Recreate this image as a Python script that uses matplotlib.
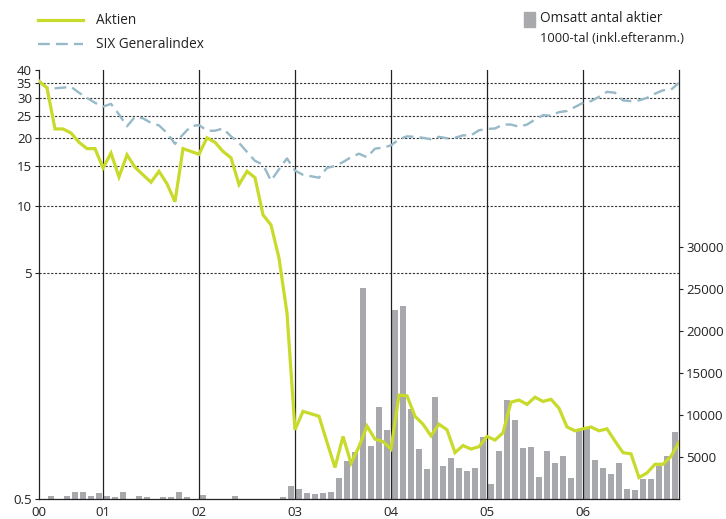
import numpy as np
import matplotlib
matplotlib.use('Agg')
import matplotlib.pyplot as plt
from matplotlib.lines import Line2D
from matplotlib.patches import Rectangle
from matplotlib.ticker import NullLocator, FixedLocator

plt.rcParams['font.family'] = ['Open Sans', 'DejaVu Sans']

# monthly points, index 0 = end of Apr 2000 ... index 80 = end of Dec 2006
aktien = [35.7, 33.3, 21.9, 21.9, 21.0, 19.1, 17.9, 17.9,
          14.7, 17.1, 13.4, 16.8, 14.8, 13.7, 12.7, 14.2, 12.5, 10.4, 17.9, 17.4,
          16.9, 20.0, 19.1, 17.4, 16.3, 12.4, 14.2, 13.3, 9.1, 8.2, 5.85, 3.33,
          1.01, 1.22, 1.19, 1.16, 0.89, 0.687, 0.944, 0.718, 0.851, 1.05, 0.918, 0.896,
          0.83, 1.44, 1.43, 1.16, 1.07, 0.95, 1.07, 1.01, 0.80, 0.86, 0.83, 0.85,
          0.944, 0.91, 0.98, 1.34, 1.37, 1.31, 1.41, 1.35, 1.38, 1.26, 1.04, 1.0,
          1.02, 1.04, 1.0, 1.02, 0.90, 0.80, 0.79, 0.62, 0.65, 0.71, 0.71, 0.77,
          0.89]

six = [35.7, 33.4, 33.2, 33.4, 33.7, 31.7, 30.1, 28.6,
       27.5, 28.3, 25.4, 22.5, 24.8, 24.4, 23.3, 22.7, 21.0, 18.8, 20.7, 22.5,
       22.8, 21.5, 21.5, 22.0, 20.3, 19.0, 17.3, 15.8, 15.2, 12.9, 14.5, 16.2,
       14.3, 13.7, 13.5, 13.3, 14.7, 15.0, 15.6, 16.4, 17.0, 16.4, 17.9, 18.1,
       18.5, 19.7, 20.3, 20.2, 20.0, 19.7, 20.2, 19.9, 20.0, 20.5, 20.5, 21.6,
       21.9, 22.0, 22.9, 22.9, 22.4, 22.9, 24.1, 25.2, 25.1, 26.0, 26.3, 27.4,
       28.6, 29.1, 30.4, 32.0, 31.7, 29.3, 29.1, 29.3, 30.1, 31.4, 32.5, 32.7,
       35.1]

# monthly traded shares (1000s), May 2000 ... Dec 2006
volym = [0, 320, 0, 320, 800, 800, 320, 680,
         320, 200, 800, 0, 320, 200, 0, 200, 200, 800, 200, 0,
         440, 0, 0, 0, 320, 0, 0, 0, 0, 0, 200, 1510,
         1150, 716, 557, 716, 835, 2465, 4490, 5570, 25130, 6280, 10970, 8190,
         22500, 23020, 10700, 5920, 3540, 12170, 3900, 4850, 3660, 3300, 3660, 7360,
         1750, 5690, 11770, 9380, 6040, 6160, 2580, 5690, 4250, 5090, 2470, 8070,
         8310, 4610, 3660, 2940, 4250, 1150, 1030, 2350, 2350, 3900, 5090, 7950]

year_pos = [0, 8, 20, 32, 44, 56, 68]
year_labels = ['00', '01', '02', '03', '04', '05', '06']

c_akt = '#c8da2a'
c_six = '#97b9c8'
c_bar = '#a8a9ac'

W, H = 726, 519
fig = plt.figure(figsize=(W / 100, H / 100), dpi=100)
ax = fig.add_axes([39 / W, 1 - 498.6 / H, 640 / W, 428.6 / H])
ax2 = ax.twinx()
ax.set_zorder(ax2.get_zorder() + 1)
ax.patch.set_visible(False)

x = np.arange(len(aktien))
xb = np.arange(1, len(volym) + 1) - 0.5

ax2.bar(xb, volym, width=0.72, color=c_bar, zorder=2)
ax2.set_ylim(0, 51100)
ax2.yaxis.set_major_locator(FixedLocator([5000, 10000, 15000, 20000, 25000, 30000]))
ax2.tick_params(axis='y', length=3, width=0.8, pad=2, labelsize=9.5, colors='#222222')

# grid
for v in [5, 10, 15, 20, 25, 30, 35]:
    ax.axhline(v, color='#333333', lw=0.8, ls=(0, (2, 1.5)), zorder=1)
for p in year_pos[1:]:
    ax.axvline(p, color='#222222', lw=0.9, zorder=1)

ax.plot(x, six, color=c_six, lw=1.7, dashes=(5, 2.6), zorder=3)
ax.plot(x, aktien, color=c_akt, lw=2.3, zorder=4, solid_joinstyle='miter')

ax.set_yscale('log')
ax.set_ylim(0.5, 40)
ax.set_xlim(0, 80)
ax.yaxis.set_major_locator(FixedLocator([0.5, 5, 10, 15, 20, 25, 30, 35, 40]))
ax.yaxis.set_minor_locator(NullLocator())
ax.set_yticklabels(['0.5', '5', '10', '15', '20', '25', '30', '35', '40'])
ax.set_xticks(year_pos)
ax.set_xticklabels(year_labels)
ax.tick_params(axis='y', length=3, width=0.8, pad=2, labelsize=9.5, colors='#222222')
ax.tick_params(axis='x', length=0, pad=5, labelsize=9.5, colors='#222222')

for a in (ax, ax2):
    a.spines['top'].set_visible(False)
    for s in a.spines.values():
        s.set_color('#222222')
        s.set_linewidth(0.9)
ax.spines['right'].set_visible(False)
ax2.spines['left'].set_visible(False)
ax2.spines['bottom'].set_visible(False)

# legends
def fx(px):
    return px / W

def fy(py):
    return 1 - py / H

fig.add_artist(Line2D([fx(38), fx(83)], [fy(20), fy(20)], color=c_akt, lw=2.3))
fig.text(fx(96), fy(20), 'Aktien', va='center', ha='left', fontsize=9.8, color='#222222')
fig.add_artist(Line2D([fx(38), fx(83)], [fy(44), fy(44)], color=c_six, lw=1.7, dashes=(5, 2.6)))
fig.text(fx(96), fy(44), 'SIX Generalindex', va='center', ha='left', fontsize=9.8, color='#222222')
fig.add_artist(Rectangle((fx(524), fy(27)), fx(11), 15 / H, color=c_bar, transform=fig.transFigure))
fig.text(fx(540), fy(19), 'Omsatt antal aktier', va='center', ha='left', fontsize=9.8, color='#222222')
fig.text(fx(540), fy(39), '1000-tal (inkl.efteranm.)', va='center', ha='left', fontsize=9.3, color='#222222')

fig.savefig('out.png', dpi=100)
